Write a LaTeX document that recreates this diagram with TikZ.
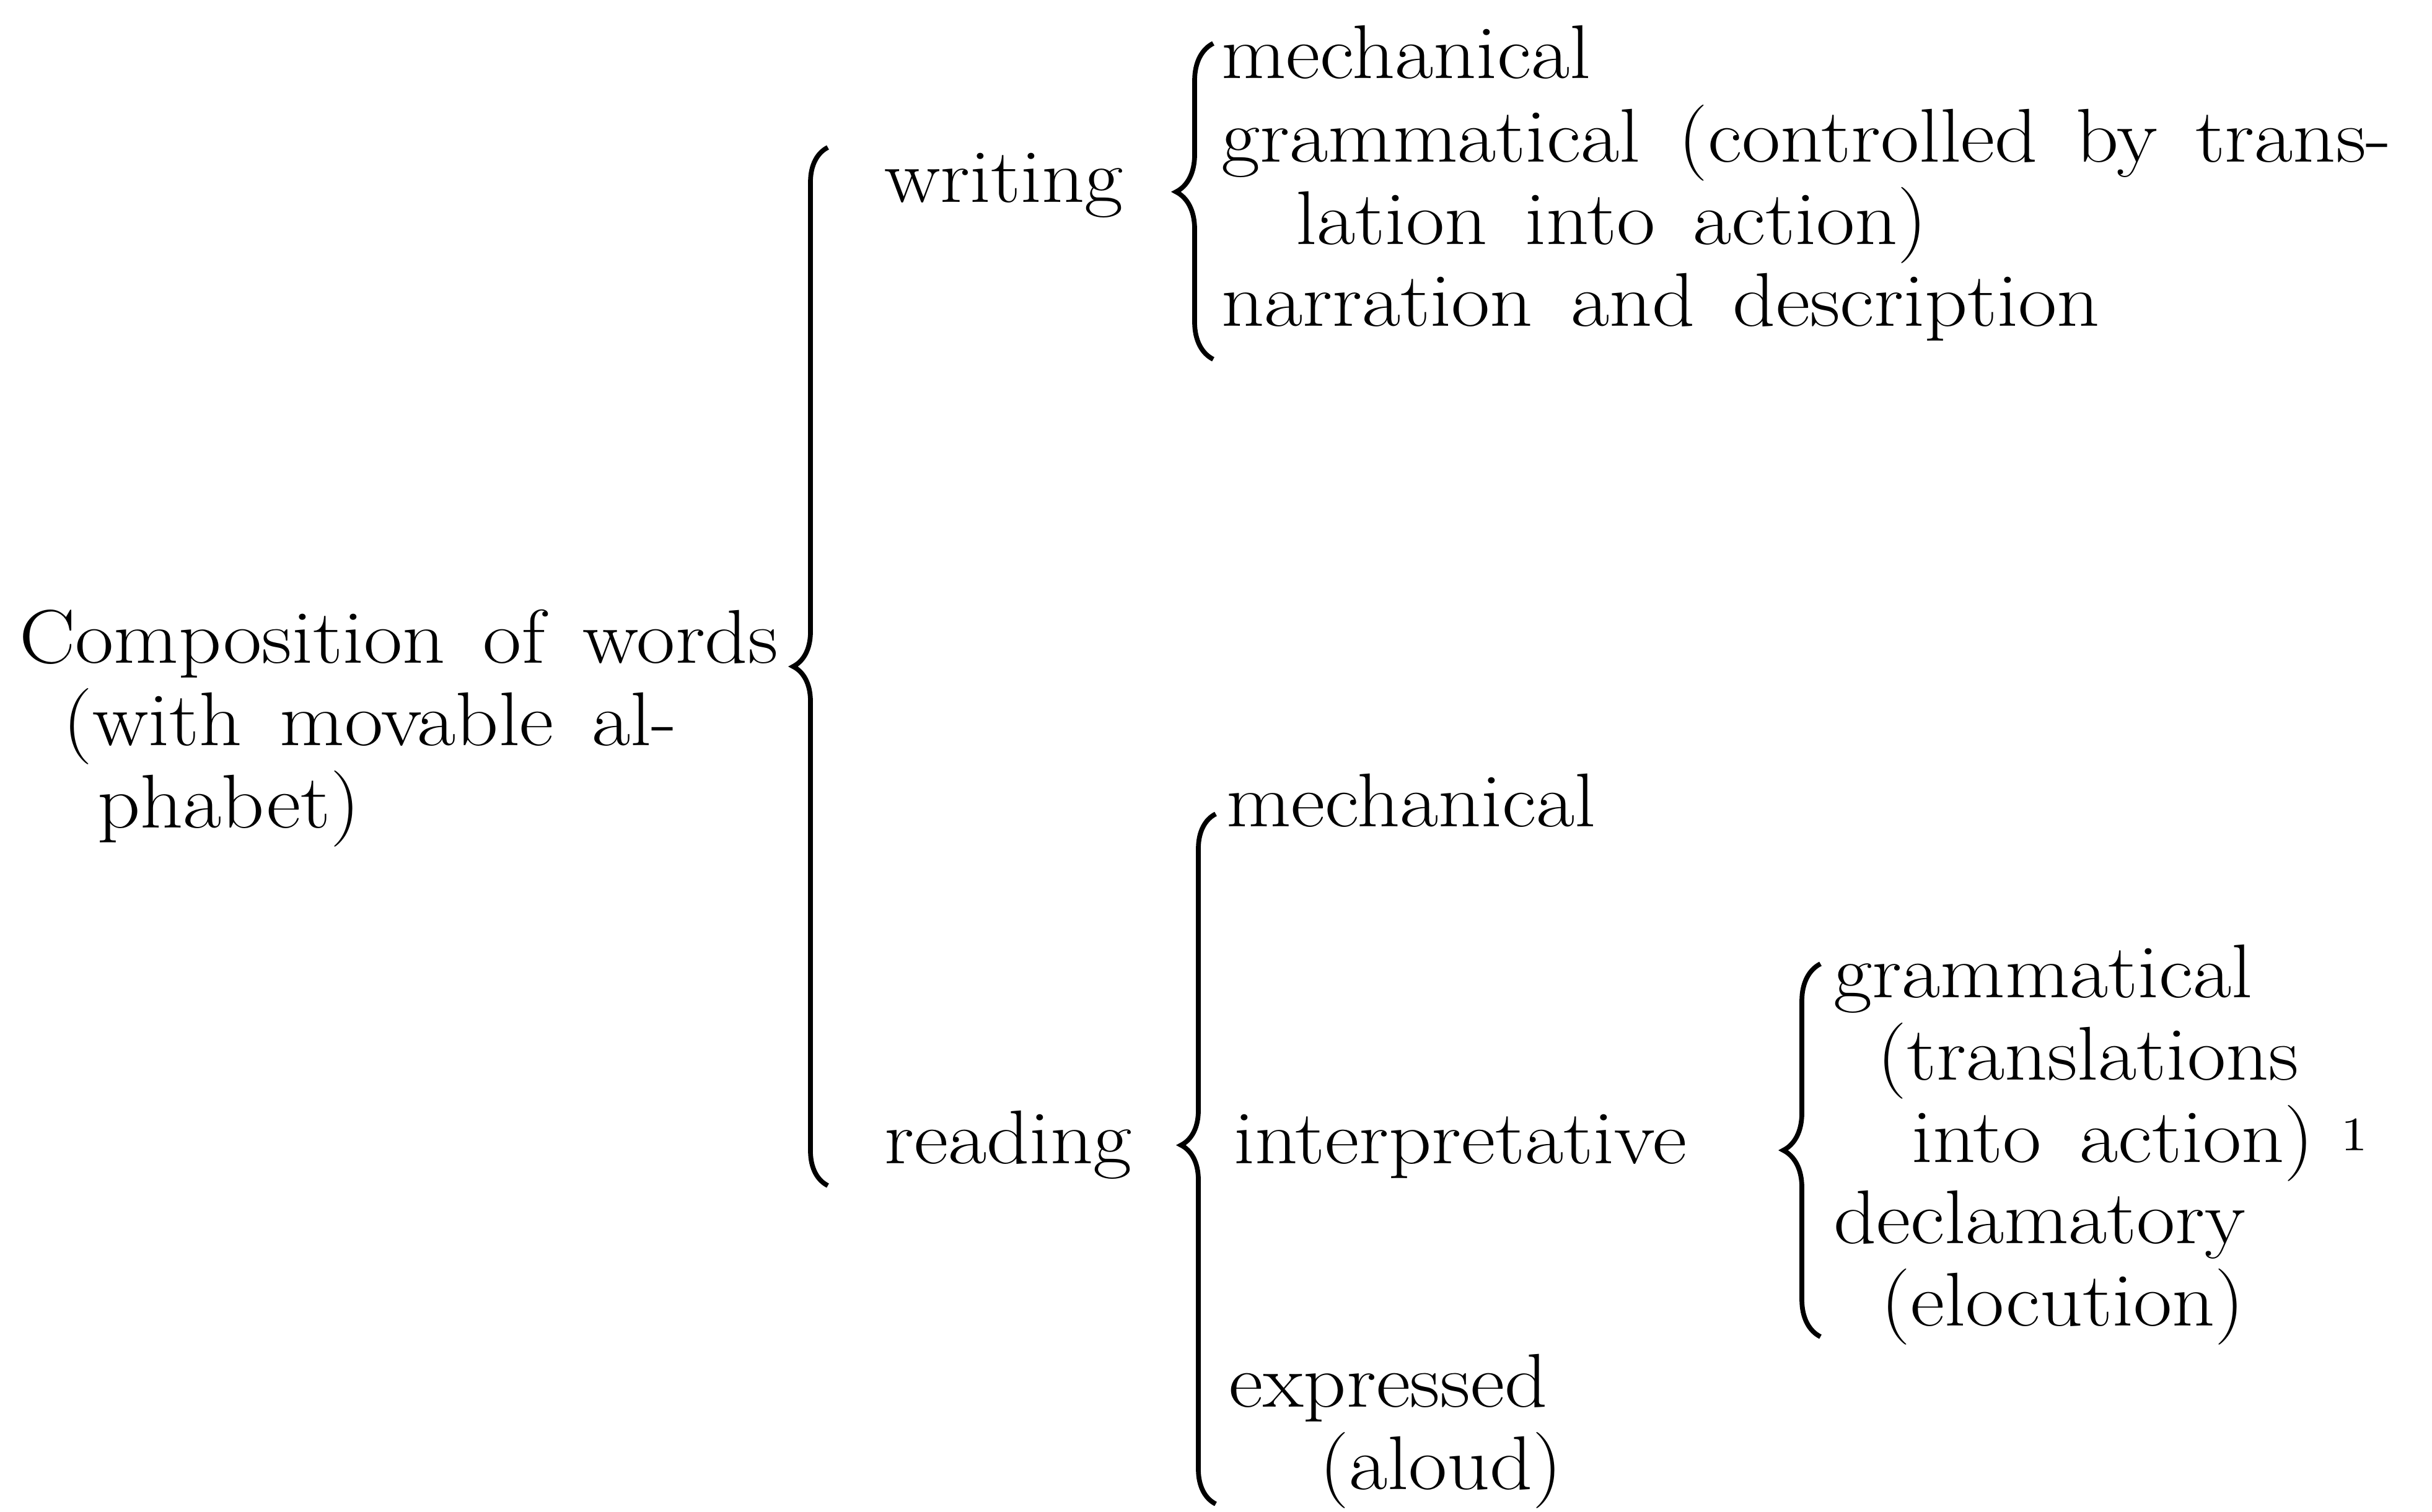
\documentclass[tikz,border=0pt]{standalone}
\usepackage{fontspec}
\setmainfont{Latin Modern Roman}[FakeStretch=1.1]
\usetikzlibrary{decorations.pathreplacing}
\begin{document}
\begin{tikzpicture}[
  txt/.style={anchor=base west, inner sep=0pt, align=left,
    font={\fontsize{17.5}{18.86}\selectfont\spaceskip=0.5em plus 0.1em minus 0.05em}},
  brc/.style={decorate, decoration={brace, amplitude=#1}, line width=1.1pt},
]
\useasboundingbox (0,0) rectangle (19.625,-12.2);
% left column (multi-line nodes sit on their last line)
\node[txt] (comp) at (0.15,-6.68) {Composition of words\\\hspace*{0.35cm}(with movable al-\\\hspace*{0.63cm}phabet)};
\node[txt] (writing) at (7.13,-1.63) {writing};
\node[txt] (reading) at (7.13,-9.39) {reading};
% writing
\node[txt] (wmech) at (9.85,-0.63) {mechanical};
\node[txt] (wgram) at (9.85,-1.97) {grammatical (controlled by trans-\\\hspace*{0.60cm}lation into action)};
\node[txt] (wnarr) at (9.85,-2.63) {narration and description};
% reading
\node[txt] (rmech) at (9.89,-6.67) {mechanical};
\node[txt] (rinterp) at (9.95,-9.39) {interpretative};
\node[txt] (rexpr) at (9.91,-12.02) {expressed\\\hspace*{0.73cm}(aloud)};
\node[txt] (igram) at (14.79,-9.38) {grammatical\\\hspace*{0.35cm}(translations\\\hspace*{0.63cm}into action)\hspace{0.22cm}\raisebox{0.15em}{\fontsize{11}{11}\selectfont 1}};
\node[txt] (idecl) at (14.79,-10.70) {declamatory\\\hspace*{0.38cm}(elocution)};
% braces
\coordinate (b1top) at (6.68,-1.19);
\coordinate (b1bot) at (6.68,-9.57);
\coordinate (b2top) at (9.79,-0.35);
\coordinate (b2bot) at (9.79,-2.90);
\coordinate (b3top) at (9.81,-6.57);
\coordinate (b3bot) at (9.81,-12.14);
\coordinate (b4top) at (14.69,-7.78);
\coordinate (b4bot) at (14.69,-10.79);
\draw[brc=0.28cm] (b1bot) -- (b1top);
\draw[brc=0.3cm, decoration={aspect=0.53}] (b2bot) -- (b2top);
\draw[brc=0.28cm, decoration={aspect=0.52}] (b3bot) -- (b3top);
\draw[brc=0.3cm] (b4bot) -- (b4top);
\end{tikzpicture}
\end{document}
